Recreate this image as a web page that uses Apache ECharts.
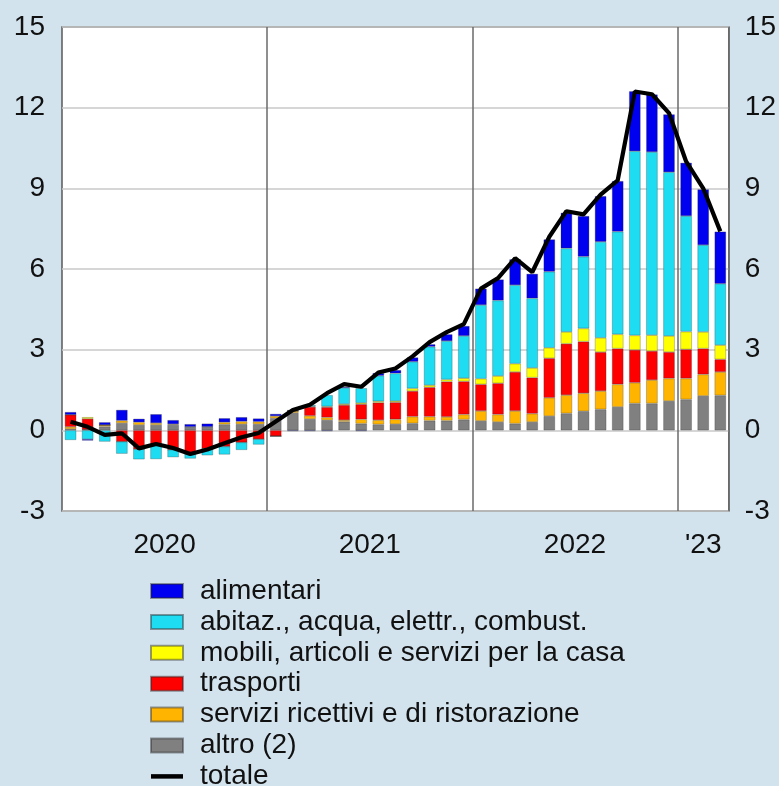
<!DOCTYPE html>
<html>
<head>
<meta charset="utf-8">
<script src="https://cdn.jsdelivr.net/npm/echarts@6/dist/echarts.min.js"></script>
<style>
html,body{margin:0;padding:0;background:#d3e3ee;}
#c{width:779px;height:786px;}
</style>
</head>
<body>
<div id="c"></div>
<script>
// monthly categories Jan 2020 - Mar 2023
const months = [
 '2020-01','2020-02','2020-03','2020-04','2020-05','2020-06','2020-07','2020-08','2020-09','2020-10','2020-11','2020-12',
 '2021-01','2021-02','2021-03','2021-04','2021-05','2021-06','2021-07','2021-08','2021-09','2021-10','2021-11','2021-12',
 '2022-01','2022-02','2022-03','2022-04','2022-05','2022-06','2022-07','2022-08','2022-09','2022-10','2022-11','2022-12',
 '2023-01','2023-02','2023-03'
];
const yearKeys = ['2020','2021','2022','2023'];
const yearLabels = ['2020','2021','2022',"'23"];
const yTicks = [-3,0,3,6,9,12,15];

const altro = [0.05,0.03,0.14,0.27,0.20,0.20,0.20,0.12,0.12,0.22,0.23,0.23,
 0.45,0.65,0.42,0.38,0.32,0.25,0.22,0.23,0.26,0.36,0.36,0.40,
 0.35,0.31,0.25,0.31,0.53,0.63,0.71,0.78,0.87,1.00,1.00,1.09,
 1.15,1.28,1.30];
const servizi = [0.08,0.00,0.06,0.09,0.10,0.07,0.03,0.01,0.01,0.08,0.10,0.09,
 0.08,0.07,0.12,0.10,0.06,0.16,0.16,0.18,0.25,0.15,0.14,0.19,
 0.37,0.28,0.47,0.31,0.68,0.68,0.67,0.68,0.84,0.77,0.87,0.84,
 0.78,0.80,0.87];
const trasporti = [0.45,0.40,0.00,-0.42,-0.70,-0.55,-0.72,-0.85,-0.68,-0.60,-0.45,-0.33,
 -0.22,0.00,0.33,0.38,0.56,0.56,0.65,0.63,0.95,1.09,1.31,1.23,
 0.99,1.16,1.45,1.34,1.47,1.91,1.92,1.45,1.33,1.22,1.08,0.98,
 1.08,0.96,0.47];
const mobili = [0.00,0.06,0.00,0.00,0.00,0.00,0.00,0.00,0.00,0.00,0.00,0.00,
 0.00,0.02,0.02,0.03,0.04,0.05,0.05,0.05,0.10,0.08,0.08,0.12,
 0.21,0.27,0.31,0.36,0.39,0.44,0.49,0.53,0.53,0.54,0.59,0.60,
 0.66,0.62,0.53];
const abitazione = [-0.36,-0.33,-0.42,-0.45,-0.38,-0.52,-0.28,-0.20,-0.25,-0.30,-0.28,-0.20,
 0.00,0.00,0.05,0.42,0.60,0.55,0.95,1.03,0.99,1.43,1.43,1.57,
 2.74,2.81,2.92,2.59,2.83,3.11,2.67,3.57,3.82,6.85,6.81,6.09,
 4.30,3.23,2.28];
const alimentari = [0.10,-0.05,0.10,0.40,0.13,0.33,0.15,0.10,0.12,0.15,0.16,0.12,
 0.08,-0.03,-0.03,-0.03,0.04,-0.03,0.10,0.12,0.16,0.09,0.25,0.37,
 0.61,0.78,0.96,0.91,1.20,1.32,1.51,1.70,1.88,2.23,2.14,2.15,
 1.98,2.07,1.94];
const totale = [0.32,0.13,-0.17,-0.11,-0.67,-0.51,-0.66,-0.88,-0.71,-0.48,-0.26,-0.10,
 0.33,0.76,0.95,1.38,1.72,1.62,2.15,2.30,2.75,3.28,3.65,3.95,
 5.27,5.66,6.40,5.88,7.20,8.15,8.03,8.77,9.30,12.60,12.50,11.80,
 10.00,9.00,7.40];

const names = {
  alim: 'alimentari',
  abit: 'abitaz., acqua, elettr., combust.',
  mob: 'mobili, articoli e servizi per la casa',
  tra: 'trasporti',
  ser: 'servizi ricettivi e di ristorazione',
  alt: 'altro (2)',
  tot: 'totale'
};

// year label positions (centre of each year's months) and year boundaries
const yearCenters = yearKeys.map(y => {
  const idx = months.map((m,i)=>m.startsWith(y)?i:-1).filter(i=>i>=0);
  return (idx[0] + idx[idx.length-1] + 1) / 2;
});
const boundaries = new Set();
months.forEach((m,i)=>{ if(i>0 && m.slice(0,4)!==months[i-1].slice(0,4)) boundaries.add(i); });

const FONT = 'Liberation Sans, Arial, sans-serif';
const border = 'rgba(40,40,40,0.45)';
function barSeries(name, data, color){
  return {name, type:'bar', stack:'tot', data, barWidth:'67%',
    itemStyle:{color, borderColor:border, borderWidth:0.6}, emphasis:{disabled:true}};
}

const chart = echarts.init(document.getElementById('c'), null, {renderer:'canvas'});
chart.setOption({
  backgroundColor:'#d3e3ee',
  animation:false,
  grid:{left:62, right:50, top:27, bottom:275, show:true, backgroundColor:'#ffffff', borderColor:'#5a5a5a', borderWidth:1.5},
  xAxis:[{
    type:'category', data:months, boundaryGap:true,
    axisLine:{show:false}, axisTick:{show:false}, axisLabel:{show:false},
    splitLine:{show:true, interval:(i)=>boundaries.has(i), lineStyle:{color:'#6a6a6a', width:1.5}}
  },{
    type:'value', min:0, max:months.length, position:'bottom',
    axisLine:{show:false}, axisTick:{show:false}, splitLine:{show:false},
    axisLabel:{customValues:yearCenters, margin:20, fontSize:28, color:'#111', fontFamily:FONT,
      formatter:(v)=>{ const k=yearCenters.findIndex(c=>Math.abs(c-v)<1e-6); return k>=0?yearLabels[k]:''; }}
  }],
  yAxis:[{
    type:'value', min:yTicks[0], max:yTicks[yTicks.length-1], interval:3, position:'left',
    axisLine:{show:false}, axisTick:{show:false},
    axisLabel:{fontSize:28, color:'#111', fontFamily:FONT, margin:17},
    splitLine:{show:true, lineStyle:{color:'#c9c9c9', width:1.5}}
  },{
    type:'value', min:yTicks[0], max:yTicks[yTicks.length-1], interval:3, position:'right',
    axisLine:{show:false}, axisTick:{show:false},
    axisLabel:{fontSize:28, color:'#111', fontFamily:FONT, margin:16},
    splitLine:{show:false}
  }],
  legend:{
    orient:'vertical', left:150, top:577, padding:0, height:260, itemWidth:32, itemHeight:14, itemGap:2.9,
    symbolKeepAspect:true,
    textStyle:{fontSize:28, lineHeight:27, color:'#111', fontFamily:FONT, padding:[0,0,0,12]},
    data:[
      {name:names.alim, icon:'rect'},
      {name:names.abit, icon:'rect'},
      {name:names.mob, icon:'rect'},
      {name:names.tra, icon:'rect'},
      {name:names.ser, icon:'rect'},
      {name:names.alt, icon:'rect'},
      {name:names.tot, icon:'path://M0,0L32,0L32,4.5L0,4.5Z', itemStyle:{color:'#000', borderWidth:0}}
    ]
  },
  series:[
    barSeries(names.alt, altro, '#808080'),
    barSeries(names.ser, servizi, '#ffb400'),
    barSeries(names.tra, trasporti, '#ff0000'),
    barSeries(names.mob, mobili, '#ffff00'),
    barSeries(names.abit, abitazione, '#1edcf2'),
    barSeries(names.alim, alimentari, '#0000f0'),
    {name:names.tot, type:'line', data:totale, symbol:'none', showSymbol:false, z:10,
      lineStyle:{color:'#000', width:4.2}, itemStyle:{color:'#000'}, emphasis:{disabled:true}}
  ]
});
</script>
</body>
</html>
